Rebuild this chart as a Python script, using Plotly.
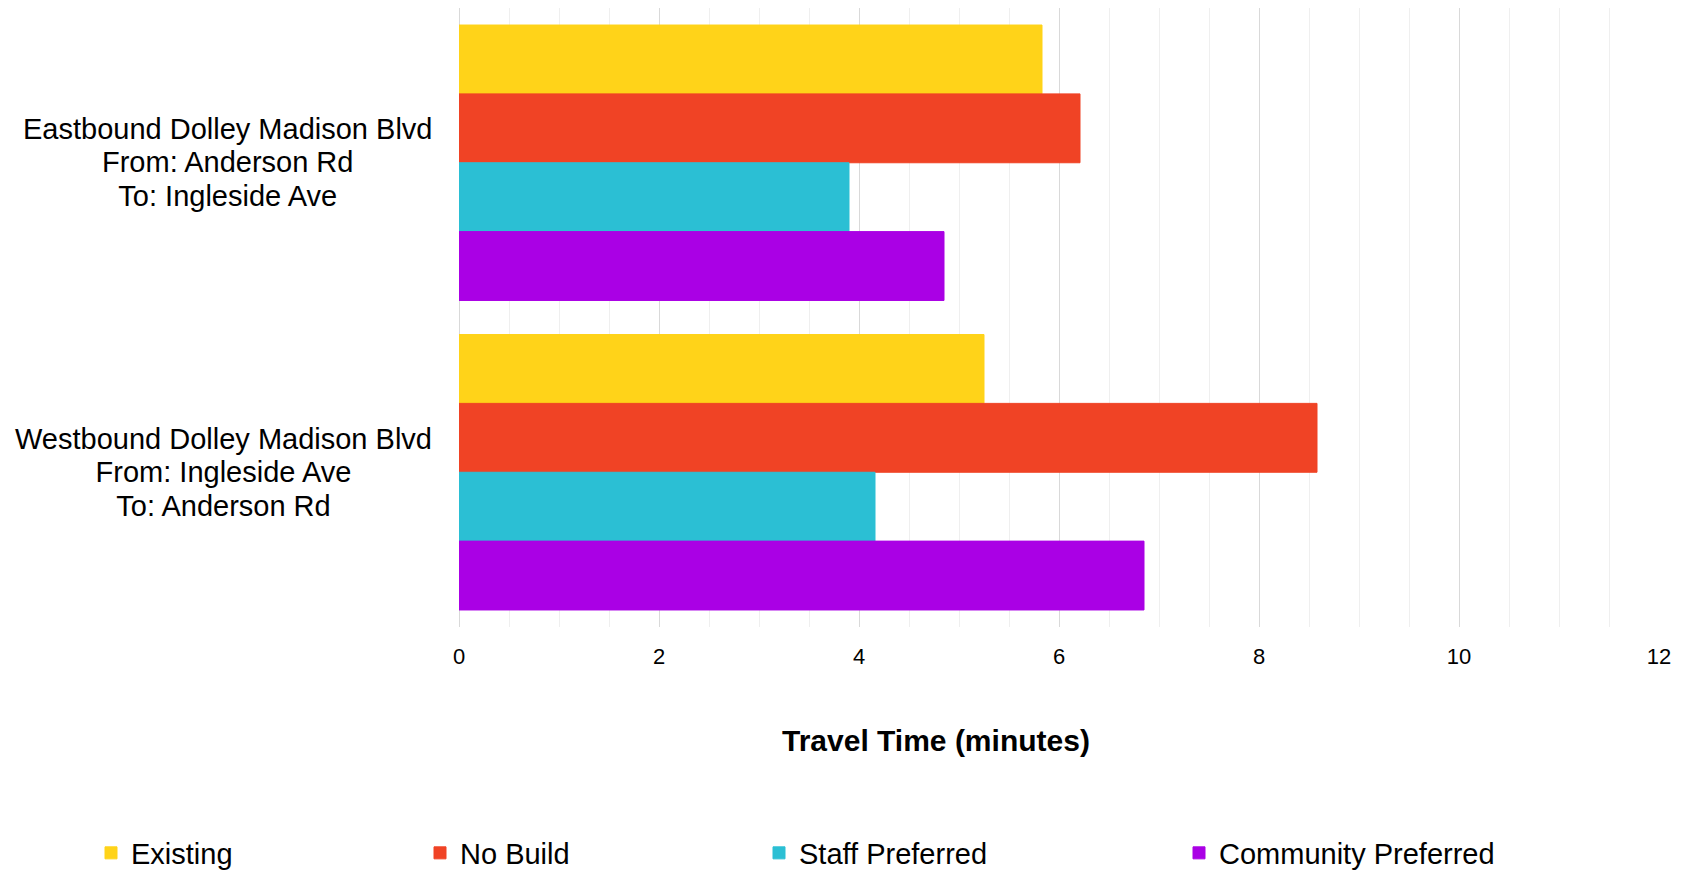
import plotly.graph_objects as go

# Route segments (y categories) and their multi-line labels
routes = ["Eastbound", "Westbound"]
route_labels = [
    ["Eastbound Dolley Madison Blvd", "From: Anderson Rd", "To: Ingleside Ave"],
    ["Westbound Dolley Madison Blvd", "From: Ingleside Ave", "To: Anderson Rd"],
]

# Travel time in minutes per scenario
existing = [5.83, 5.25]
no_build = [6.21, 8.58]
staff_preferred = [3.90, 4.16]
community_preferred = [4.85, 6.85]

scenario_names = ["Existing", "No Build", "Staff Preferred", "Community Preferred"]
scenario_values = [existing, no_build, staff_preferred, community_preferred]
scenario_colors = ["#FFD319", "#F04325", "#2BBFD4", "#AA00E5"]

x_ticks = [0, 2, 4, 6, 8, 10, 12]
x_title = "Travel Time (minutes)"

FONT = "Arial, Liberation Sans, sans-serif"

W, H = 1688, 870
left, right, top, bottom = 459, 29, 8, 243
pw = W - left - right
ph = H - top - bottom


def paper_y(py):
    """Convert a pixel row (from the top of the page) to paper y."""
    return (H - bottom - py) / ph


def paper_x(px):
    return (px - left) / pw


fig = go.Figure()
legend_ids = ["legend", "legend2", "legend3", "legend4"]
for name, vals, color, lg in zip(scenario_names, scenario_values, scenario_colors, legend_ids):
    fig.add_trace(go.Bar(
        y=routes,
        x=vals,
        name=name,
        orientation="h",
        marker=dict(color=color, line=dict(color=color, width=1)),
        legend=lg,
    ))

# One single-entry legend per scenario, spread along the bottom
legend_x_px = [91, 420, 759, 1179]
legend_layout = {}
for lg, px in zip(legend_ids, legend_x_px):
    legend_layout[lg] = dict(
        x=paper_x(px),
        y=paper_y(853),
        xanchor="left",
        yanchor="middle",
        orientation="h",
        font=dict(family=FONT, size=29, color="#000000"),
        bgcolor="rgba(0,0,0,0)",
        borderwidth=0,
    )

# Route labels: tight line pitch via a small base size, text drawn at 29px
annotations = []
for cat, lines in zip(routes, route_labels):
    text = "<br>".join('<span style="font-size:29px">%s</span>' % ln for ln in lines)
    annotations.append(dict(
        x=0, xref="paper", xanchor="right", xshift=-25,
        y=cat, yref="y", yanchor="middle",
        text=text, align="center", showarrow=False,
        font=dict(family=FONT, size=25.6, color="#000000"),
    ))

# Axis title
annotations.append(dict(
    x=paper_x(935.5), xref="paper", xanchor="center",
    y=paper_y(740), yref="paper", yanchor="middle",
    text="<b>%s</b>" % x_title, showarrow=False,
    font=dict(family=FONT, size=30, color="#000000"),
))

fig.update_layout(
    width=W, height=H,
    margin=dict(l=left, r=right, t=top, b=bottom, pad=0, autoexpand=False),
    paper_bgcolor="#ffffff",
    plot_bgcolor="#ffffff",
    barmode="group",
    bargap=0.11,
    bargroupgap=0,
    showlegend=True,
    annotations=annotations,
    font=dict(family=FONT, color="#000000"),
    **legend_layout,
)

fig.update_xaxes(
    range=[0, 12],
    tickvals=x_ticks,
    ticktext=[str(t) for t in x_ticks],
    ticks="",
    ticklabelstandoff=14,
    tickfont=dict(family=FONT, size=22, color="#000000"),
    showgrid=True, gridcolor="#d9d9d9", gridwidth=1,
    zeroline=True, zerolinecolor="#d9d9d9", zerolinewidth=1,
    minor=dict(dtick=0.5, showgrid=True, gridcolor="#efefef", gridwidth=1),
    showline=False,
)

fig.update_yaxes(
    type="category",
    categoryarray=routes,
    range=[1.5, -0.5],
    showticklabels=False,
    showgrid=False,
    zeroline=False,
    showline=False,
)

fig.write_html("out.html")
